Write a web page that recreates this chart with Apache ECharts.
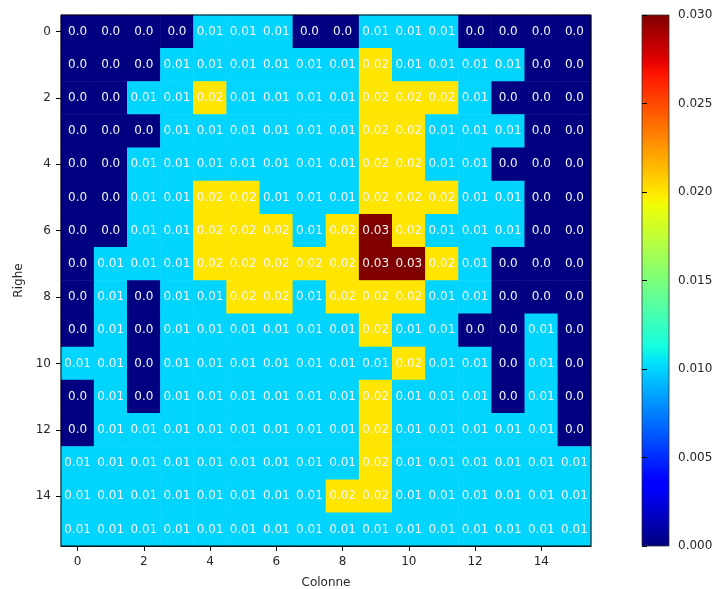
<!DOCTYPE html>
<html>
<head>
<meta charset="utf-8">
<script src="https://cdn.jsdelivr.net/npm/echarts@6/dist/echarts.min.js"></script>
<style>
  html, body { margin: 0; padding: 0; background: #fff; }
  #chart { width: 715px; height: 589px; }
</style>
</head>
<body>
<div id="chart"></div>
<script>
// Column and row indices of the grid
const colonne = ['0','1','2','3','4','5','6','7','8','9','10','11','12','13','14','15'];
const righe   = ['0','1','2','3','4','5','6','7','8','9','10','11','12','13','14','15'];

// Cell values, one array per row (row 0 at the top)
const riga0  = [0,0,0,0,0.01,0.01,0.01,0,0,0.01,0.01,0.01,0,0,0,0];
const riga1  = [0,0,0,0.01,0.01,0.01,0.01,0.01,0.01,0.02,0.01,0.01,0.01,0.01,0,0];
const riga2  = [0,0,0.01,0.01,0.02,0.01,0.01,0.01,0.01,0.02,0.02,0.02,0.01,0,0,0];
const riga3  = [0,0,0,0.01,0.01,0.01,0.01,0.01,0.01,0.02,0.02,0.01,0.01,0.01,0,0];
const riga4  = [0,0,0.01,0.01,0.01,0.01,0.01,0.01,0.01,0.02,0.02,0.01,0.01,0,0,0];
const riga5  = [0,0,0.01,0.01,0.02,0.02,0.01,0.01,0.01,0.02,0.02,0.02,0.01,0.01,0,0];
const riga6  = [0,0,0.01,0.01,0.02,0.02,0.02,0.01,0.02,0.03,0.02,0.01,0.01,0.01,0,0];
const riga7  = [0,0.01,0.01,0.01,0.02,0.02,0.02,0.02,0.02,0.03,0.03,0.02,0.01,0,0,0];
const riga8  = [0,0.01,0,0.01,0.01,0.02,0.02,0.01,0.02,0.02,0.02,0.01,0.01,0,0,0];
const riga9  = [0,0.01,0,0.01,0.01,0.01,0.01,0.01,0.01,0.02,0.01,0.01,0,0,0.01,0];
const riga10 = [0.01,0.01,0,0.01,0.01,0.01,0.01,0.01,0.01,0.01,0.02,0.01,0.01,0,0.01,0];
const riga11 = [0,0.01,0,0.01,0.01,0.01,0.01,0.01,0.01,0.02,0.01,0.01,0.01,0,0.01,0];
const riga12 = [0,0.01,0.01,0.01,0.01,0.01,0.01,0.01,0.01,0.02,0.01,0.01,0.01,0.01,0.01,0];
const riga13 = [0.01,0.01,0.01,0.01,0.01,0.01,0.01,0.01,0.01,0.02,0.01,0.01,0.01,0.01,0.01,0.01];
const riga14 = [0.01,0.01,0.01,0.01,0.01,0.01,0.01,0.01,0.02,0.02,0.01,0.01,0.01,0.01,0.01,0.01];
const riga15 = [0.01,0.01,0.01,0.01,0.01,0.01,0.01,0.01,0.01,0.01,0.01,0.01,0.01,0.01,0.01,0.01];
const righeValori = [riga0,riga1,riga2,riga3,riga4,riga5,riga6,riga7,riga8,riga9,riga10,riga11,riga12,riga13,riga14,riga15];

// Colour scale range and its tick step
const scalaMin = 0;
const scalaMax = 0.03;
const scalaPasso = 0.005;

// Jet colormap (piecewise linear segments)
function interpSeg(seg, x) {
  for (let i = 1; i < seg.length; i++) {
    if (x <= seg[i][0]) {
      const [x0, y0] = seg[i - 1], [x1, y1] = seg[i];
      return y0 + (y1 - y0) * (x - x0) / (x1 - x0);
    }
  }
  return seg[seg.length - 1][1];
}
const jetR = [[0,0],[0.35,0],[0.66,1],[0.89,1],[1,0.5]];
const jetG = [[0,0],[0.125,0],[0.375,1],[0.64,1],[0.91,0],[1,0]];
const jetB = [[0,0.5],[0.11,1],[0.34,1],[0.65,0],[1,0]];
function jet(x) {
  const c = v => Math.round(Math.max(0, Math.min(1, v)) * 255);
  return 'rgb(' + c(interpSeg(jetR, x)) + ',' + c(interpSeg(jetG, x)) + ',' + c(interpSeg(jetB, x)) + ')';
}
const jetColors = [];
for (let i = 0; i <= 255; i++) jetColors.push(jet(i / 255));

// Vertical gradient for the colour bar (top = max)
const barStops = [];
for (let i = 0; i <= 64; i++) {
  const t = i / 64;
  barStops.push({ offset: t, color: jet(1 - t) });
}

const heatData = [];
righeValori.forEach((row, r) => {
  row.forEach((v, c) => heatData.push([c, r, v]));
});

const textCol = '#262626';
const fontFam = 'DejaVu Sans, sans-serif';

const chart = echarts.init(document.getElementById('chart'), null, { renderer: 'canvas' });
chart.setOption({
  animation: false,
  backgroundColor: '#fff',
  grid: [
    { left: 61, top: 15, width: 530, height: 531, outerBoundsMode: 'none', containLabel: false,
      show: true, borderColor: '#000', borderWidth: 1, backgroundColor: 'transparent', z: 3 },
    { left: 642, top: 15, width: 27, height: 531, outerBoundsMode: 'none', containLabel: false,
      show: true, borderColor: '#333', borderWidth: 0.8,
      backgroundColor: new echarts.graphic.LinearGradient(0, 0, 0, 1, barStops) }
  ],
  xAxis: [
    {
      gridIndex: 0, type: 'category', data: colonne, position: 'bottom',
      name: 'Colonne', nameLocation: 'middle', nameGap: 31,
      nameTextStyle: { color: textCol, fontSize: 12, fontFamily: fontFam },
      axisLine: { show: true, lineStyle: { color: '#000', width: 1 } },
      axisTick: { show: true, inside: false, interval: 1, alignWithLabel: true, length: 5, lineStyle: { color: '#000' } },
      axisLabel: { interval: 1, color: textCol, fontSize: 12, fontFamily: fontFam, margin: 10 },
      splitLine: { show: false }
    },
    {
      gridIndex: 1, type: 'value', show: false, min: 0, max: 1
    }
  ],
  yAxis: [
    {
      gridIndex: 0, type: 'category', data: righe, inverse: true,
      name: 'Righe', nameLocation: 'middle', nameGap: 35, nameRotate: 90,
      nameTextStyle: { color: textCol, fontSize: 12, fontFamily: fontFam },
      axisLine: { show: true, lineStyle: { color: '#000', width: 1 } },
      axisTick: { show: true, inside: false, interval: 1, alignWithLabel: true, length: 5, lineStyle: { color: '#000' } },
      axisLabel: { interval: 1, color: textCol, fontSize: 12, fontFamily: fontFam, margin: 10 },
      splitLine: { show: false }
    },
    {
      gridIndex: 1, type: 'value', position: 'right', min: scalaMin, max: scalaMax, interval: scalaPasso,
      axisLine: { show: false },
      axisTick: { show: true, inside: false, length: 5, lineStyle: { color: '#000' } },
      axisLabel: { color: textCol, fontSize: 12, fontFamily: fontFam, margin: 9, formatter: v => v.toFixed(3) },
      splitLine: { show: false }
    }
  ],
  visualMap: {
    show: false, type: 'continuous', min: scalaMin, max: scalaMax, seriesIndex: 0,
    inRange: { color: jetColors }
  },
  series: [
    {
      type: 'heatmap', xAxisIndex: 0, yAxisIndex: 0, data: heatData,
      label: {
        show: true, color: '#f4f4f4', fontSize: 12, fontFamily: fontFam,
        formatter: p => (p.value[2] === 0 ? '0.0' : p.value[2].toFixed(2))
      },
      itemStyle: { borderWidth: 0 },
      emphasis: { disabled: true }
    }
  ]
});
</script>
</body>
</html>
